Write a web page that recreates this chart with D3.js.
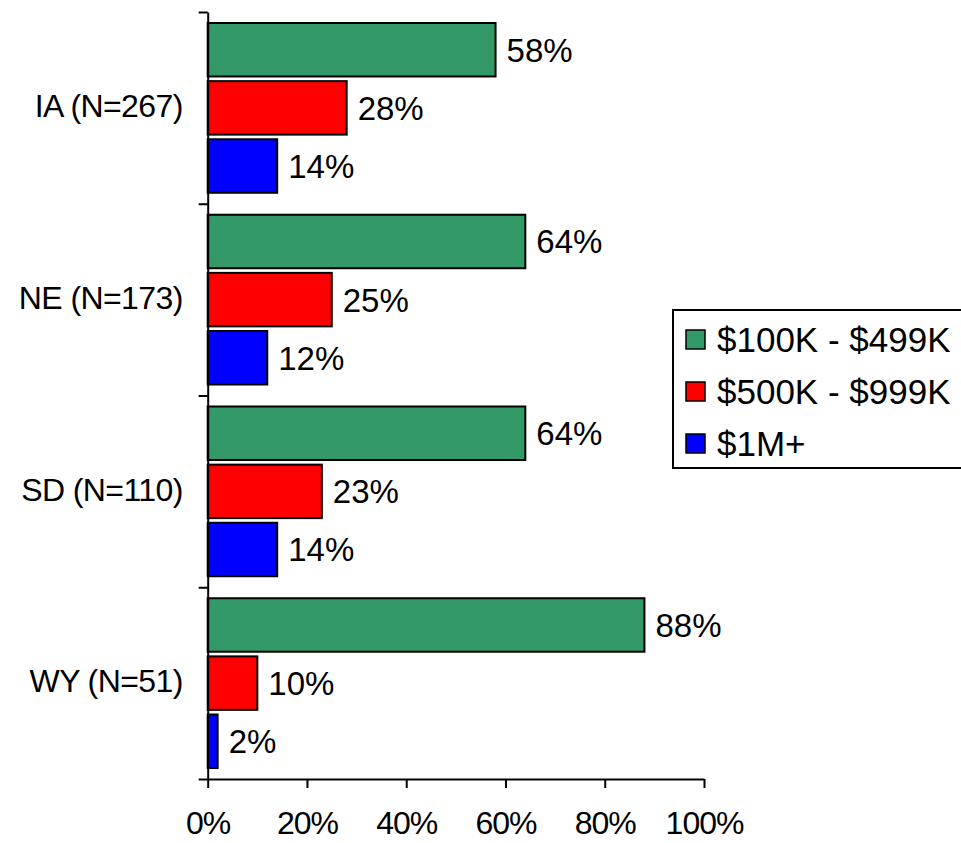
<!DOCTYPE html>
<html>
<head>
<meta charset="utf-8">
<script src="https://cdn.jsdelivr.net/npm/d3@7"></script>
<style>
  body { margin: 0; background: #fff; }
  svg { display: block; font-family: "Liberation Sans", Arial, sans-serif; }
</style>
</head>
<body>
<svg id="chart" width="961" height="843"></svg>
<script>
// data
let states = ['IA (N=267)', 'NE (N=173)', 'SD (N=110)', 'WY (N=51)'];
let series = ['$100K - $499K', '$500K - $999K', '$1M+'];
let colors = ['#339966', '#ff0000', '#0000ff'];
let small = [58, 64, 64, 88];
let mid = [28, 25, 23, 10];
let big = [14, 12, 14, 2];
let xTicks = [0, 20, 40, 60, 80, 100];

let values = [small, mid, big];
let rows = states.map((s, i) => ({state: s, vals: series.map((k, j) => ({key: k, v: values[j][i], c: colors[j]}))}));

let svg = d3.select('#chart');
let plotL = 207.7, plotR = 704, plotT = 12, plotB = 779;

let x = d3.scaleLinear().domain([0, 100]).range([plotL, plotR]);
let y0 = d3.scaleBand().domain(states).range([plotT, plotB]);
let y1 = d3.scaleBand().domain(series).range([11, y0.bandwidth() - 11]).paddingInner(0.08);

// bars
let groups = svg.append('g').selectAll('g')
  .data(rows).enter().append('g')
  .attr('transform', d => `translate(0,${y0(d.state)})`);

groups.selectAll('rect')
  .data(d => d.vals).enter().append('rect')
  .attr('x', x(0))
  .attr('y', d => y1(d.key))
  .attr('width', d => x(d.v) - x(0))
  .attr('height', y1.bandwidth())
  .attr('fill', d => d.c)
  .attr('stroke', '#000')
  .attr('stroke-width', 2);

groups.selectAll('text')
  .data(d => d.vals).enter().append('text')
  .attr('x', d => x(d.v) + 11)
  .attr('y', d => y1(d.key) + y1.bandwidth() / 2)
  .attr('dy', '0.36em')
  .attr('font-size', 33)
  .text(d => d.v + '%');

// x axis
let xa = svg.append('g')
  .attr('transform', `translate(0,${plotB})`)
  .call(d3.axisBottom(x).tickValues(xTicks).tickFormat(d => d + '%').tickSize(9).tickSizeOuter(0).tickPadding(23));
xa.selectAll('text').attr('font-size', 32).attr('letter-spacing', -1).attr('fill', '#000').attr('font-family', null);
xa.selectAll('line, path').attr('stroke', '#000').attr('stroke-width', 2);

// y axis tick marks at band edges
let yEdge = d3.scaleLinear().domain([0, states.length]).range([plotT, plotB]);
let ya = svg.append('g')
  .attr('transform', `translate(${plotL},0)`)
  .call(d3.axisLeft(yEdge).ticks(states.length).tickFormat('').tickSize(9).tickSizeOuter(0));
ya.selectAll('line, path').attr('stroke', '#000').attr('stroke-width', 2);

// y category labels
let yl = svg.append('g')
  .attr('transform', `translate(${plotL},-1)`)
  .call(d3.axisLeft(y0).tickSize(0).tickPadding(25));
yl.select('.domain').remove();
yl.selectAll('text').attr('font-size', 32).attr('letter-spacing', -0.6).attr('fill', '#000').attr('font-family', null);

// legend
let lg = svg.append('g').attr('transform', 'translate(673,310)');
lg.append('rect')
  .attr('width', 290).attr('height', 158)
  .attr('fill', '#fff').attr('stroke', '#000').attr('stroke-width', 2);
let li = lg.selectAll('g.item')
  .data(series.map((s, i) => ({s: s, c: colors[i]}))).enter().append('g')
  .attr('transform', (d, i) => `translate(0,${i * 52})`);
li.append('rect')
  .attr('x', 13).attr('y', 20).attr('width', 19).attr('height', 19)
  .attr('fill', d => d.c).attr('stroke', '#000').attr('stroke-width', 1.5);
li.append('text')
  .attr('x', 44).attr('y', 42)
  .attr('font-size', 35)
  .text(d => d.s);
</script>
</body>
</html>
